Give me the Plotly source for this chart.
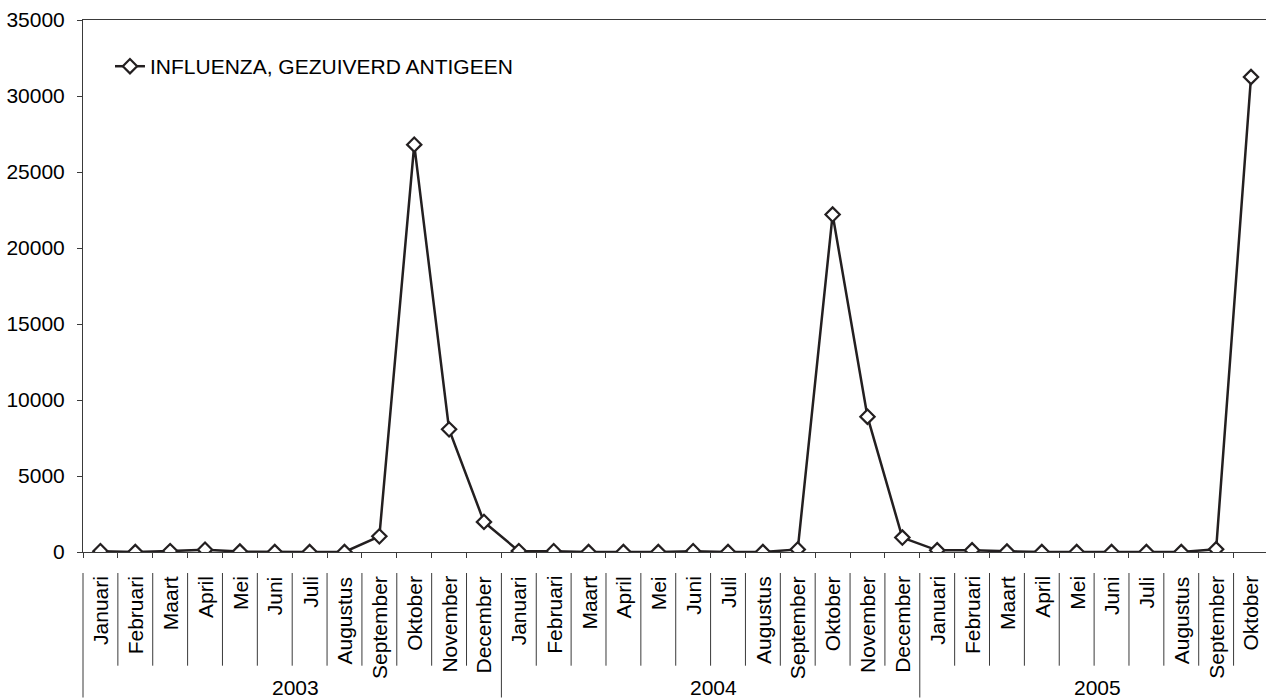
import plotly.graph_objects as go

# ---- data ----
years = ["2003", "2004", "2005"]
months_2003 = ["Januari", "Februari", "Maart", "April", "Mei", "Juni", "Juli",
               "Augustus", "September", "Oktober", "November", "December"]
months_2004 = ["Januari", "Februari", "Maart", "April", "Mei", "Juni", "Juli",
               "Augustus", "September", "Oktober", "November", "December"]
months_2005 = ["Januari", "Februari", "Maart", "April", "Mei", "Juni", "Juli",
               "Augustus", "September", "Oktober"]
values_2003 = [50, 0, 60, 150, 30, 0, 0, 0, 1030, 26800, 8070, 1980]
values_2004 = [60, 50, 0, 0, 0, 50, 0, 0, 170, 22200, 8900, 950]
values_2005 = [110, 110, 30, 0, 0, 0, 0, 0, 180, 31250]
series_name = "INFLUENZA, GEZUIVERD ANTIGEEN"
y_ticks = [0, 5000, 10000, 15000, 20000, 25000, 30000, 35000]

month_groups = [months_2003, months_2004, months_2005]
value_groups = [values_2003, values_2004, values_2005]

months = [m for g in month_groups for m in g]
values = [v for g in value_groups for v in g]
xs = list(range(len(months)))

FONT = "Liberation Sans, Arial, sans-serif"
INK = "#231f20"
AXIS = "#3a3a3a"

x_min, x_max = -0.5, 33.43


def to_paper(xv):
    return (xv - x_min) / (x_max - x_min)


fig = go.Figure()
fig.add_trace(go.Scatter(
    x=xs, y=values, mode="lines+markers", name=series_name,
    line=dict(color=INK, width=2.5),
    marker=dict(symbol="diamond", size=11, color="white",
                line=dict(color=INK, width=2.2)),
    showlegend=True,
))

shapes = []
annotations = []
y_top = -0.0395
y_month_bottom = -0.2137
y_year_bottom = -0.2735
start = 0
year_bounds = []
for g in month_groups:
    year_bounds.append((start, start + len(g) - 1))
    start += len(g)
year_starts = {b[0] for b in year_bounds}
for i in range(len(months) + 1):
    bx = i - 0.5
    if bx > x_max:
        continue
    long_line = i in year_starts
    shapes.append(dict(
        type="line", xref="paper", yref="paper",
        x0=to_paper(bx), x1=to_paper(bx), y0=y_top,
        y1=y_year_bottom if long_line else y_month_bottom,
        line=dict(color=AXIS, width=1),
    ))
# month category labels (rotated), one per category
for xv, m in zip(xs, months):
    annotations.append(dict(
        x=xv, xref="x", y=-0.0414, yref="paper", text=m, showarrow=False,
        textangle=-90, xanchor="center", yanchor="top",
        font=dict(family=FONT, size=21, color="black"),
    ))
# year group labels
for yr, (a, b) in zip(years, year_bounds):
    cx = (a - 0.5 + b + 0.5) / 2
    annotations.append(dict(
        x=cx, xref="x", y=-0.2538, yref="paper", text=yr, showarrow=False,
        xanchor="center", yanchor="middle", xshift=3,
        font=dict(family=FONT, size=21, color="black"),
    ))

fig.update_layout(
    width=1266, height=698,
    margin=dict(l=83, r=0, t=20, b=146),
    paper_bgcolor="white", plot_bgcolor="white",
    font=dict(family=FONT, size=21, color="black"),
    showlegend=True,
    legend=dict(x=0.0228, y=0.951, xanchor="left", yanchor="top",
                bgcolor="rgba(0,0,0,0)", font=dict(family=FONT, size=21, color="black"),
                itemwidth=30),
    shapes=shapes,
    annotations=annotations,
    xaxis=dict(
        range=[x_min, x_max], tickmode="array", tickvals=xs,
        showticklabels=False, ticks="", showgrid=False, zeroline=False,
        showline=True, linecolor=AXIS, linewidth=1, mirror=True,
        minor=dict(tickmode="array", tickvals=[i - 0.5 for i in range(len(months) + 1)],
                   ticks="outside", ticklen=5, tickcolor=AXIS, tickwidth=1, showgrid=False),
    ),
    yaxis=dict(
        range=[0, 35000], tickmode="array", tickvals=y_ticks,
        ticktext=[str(v) for v in y_ticks],
        ticks="outside", ticklen=5, tickcolor=AXIS, tickwidth=1,
        showgrid=False, zeroline=False, showline=True, linecolor=AXIS, linewidth=1,
        ticklabelstandoff=8,
        tickfont=dict(family=FONT, size=21, color="black"),
    ),
)

fig.write_html("out.html")
